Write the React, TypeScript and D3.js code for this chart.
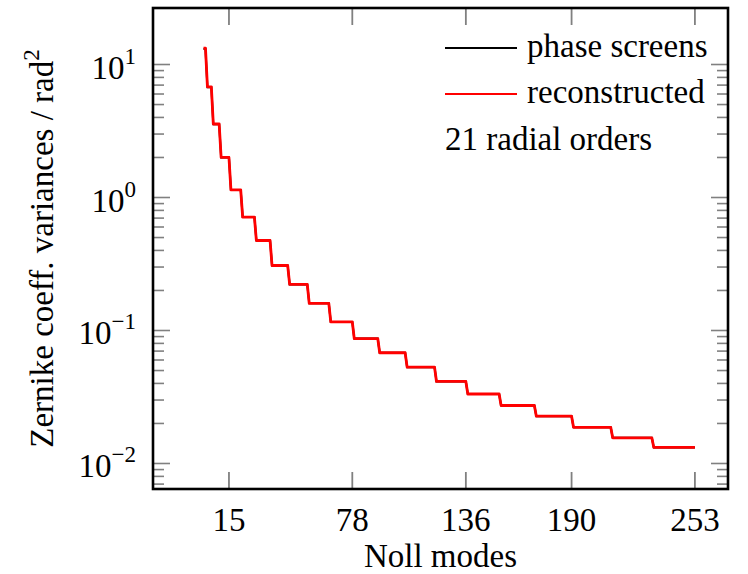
import React from 'react';
import * as d3 from 'd3';

// variance level of each radial order n = 1..21
const radialOrders = [1, 2, 3, 4, 5, 6, 7, 8, 9, 10, 11, 12, 13, 14, 15, 16, 17, 18, 19, 20, 21];
const phaseScreens = [13.1, 6.75, 3.55, 2.0, 1.14, 0.715, 0.475, 0.308, 0.222, 0.16, 0.116, 0.087, 0.068, 0.053, 0.0413, 0.0333, 0.0273, 0.0227, 0.0187, 0.0156, 0.0132];
const reconstructed = [13.3, 6.8, 3.57, 2.0, 1.14, 0.713, 0.475, 0.308, 0.222, 0.16, 0.116, 0.087, 0.068, 0.053, 0.0414, 0.0333, 0.0273, 0.0227, 0.0187, 0.0156, 0.0132];

const xTicks = [15, 78, 136, 190, 253];
const yMajorExps = [-2, -1, 0, 1];
const yMinorDecades = [-3, -2, -1, 0];

// expand a per-order level into Noll modes j (order n holds modes n(n+1)/2+1 .. (n+1)(n+2)/2)
const toModes = (levels: number[]) => {
    const pts: [number, number][] = [];
    radialOrders.forEach((n, i) => {
        const first = (n * (n + 1)) / 2 + 1;
        const last = ((n + 1) * (n + 2)) / 2;
        for (let j = first; j <= last; j++) pts.push([j, levels[i]]);
    });
    return pts;
};

const W = 748, H = 574;
const left = 153, right = 728, top = 8, bottom = 489;
const FONT = 'Liberation Serif';
const tickColor = '#808080';

const App = () => {
    const x = d3.scaleLinear().domain([-23.8, 269.9]).range([left, right]);
    const y = d3.scaleLog().domain([26.6, 0.00643]).range([top, bottom]);

    const line = d3.line<[number, number]>()
        .x(d => x(d[0]))
        .y(d => y(d[1]));

    const minor: number[] = [];
    yMinorDecades.forEach(d => {
        for (let k = 2; k <= 9; k++) {
            const v = k * Math.pow(10, d);
            if (v > 0.00643 && v < 26.6) minor.push(v);
        }
    });

    const legend = [
        { label: 'phase screens', color: '#000', ly: 48 },
        { label: 'reconstructed', color: '#ff0000', ly: 94 },
    ];

    return (
        <svg width={W} height={H} style={{ position: 'absolute', left: 0, top: 0, background: '#fff' }}>
            {/* x ticks bottom & top */}
            {xTicks.map(t => (
                <g key={'x' + t}>
                    <line x1={x(t)} x2={x(t)} y1={bottom} y2={bottom - 17} stroke={tickColor} strokeWidth={1.8} />
                    <line x1={x(t)} x2={x(t)} y1={top} y2={top + 17} stroke={tickColor} strokeWidth={1.8} />
                    <text x={x(t)} y={531} textAnchor="middle" fontFamily={FONT} fontSize={33}>{t}</text>
                </g>
            ))}

            {minor.map((v, i) => (
                <g key={'m' + i}>
                    <line x1={left} x2={left + 11} y1={y(v)} y2={y(v)} stroke={tickColor} strokeWidth={1.6} />
                    <line x1={right} x2={right - 11} y1={y(v)} y2={y(v)} stroke={tickColor} strokeWidth={1.6} />
                </g>
            ))}
            {yMajorExps.map(e => {
                const v = Math.pow(10, e);
                return (
                    <g key={'y' + e}>
                        <line x1={left} x2={left + 17} y1={y(v)} y2={y(v)} stroke={tickColor} strokeWidth={1.6} />
                        <line x1={right} x2={right - 17} y1={y(v)} y2={y(v)} stroke={tickColor} strokeWidth={1.6} />
                        <text x={136} y={y(v) + 14} textAnchor="end" fontFamily={FONT} fontSize={33}>
                            <tspan>10</tspan>
                            <tspan dy={-15} fontSize={23}>{e < 0 ? '\u2212' + Math.abs(e) : String(e)}</tspan>
                        </text>
                    </g>
                );
            })}

            {/* series */}
            <path d={line(toModes(phaseScreens)) || ''} fill="none" stroke="#000" strokeWidth={2} />
            <path d={line(toModes(reconstructed)) || ''} fill="none" stroke="#ff0000" strokeWidth={2.8} strokeLinejoin="round" />

            {/* frame */}
            <rect x={left} y={top} width={right - left} height={bottom - top} fill="none" stroke="#000" strokeWidth={2.6} />

            {/* legend */}
            {legend.map(l => (
                <g key={l.label}>
                    <line x1={445} x2={517} y1={l.ly} y2={l.ly} stroke={l.color} strokeWidth={2} />
                    <text x={527} y={l.ly + 9} fontFamily={FONT} fontSize={33}>{l.label}</text>
                </g>
            ))}
            <text x={445} y={150} fontFamily={FONT} fontSize={33}>21 radial orders</text>

            {/* axis labels */}
            <text x={(left + right) / 2} y={567} textAnchor="middle" fontFamily={FONT} fontSize={33}>Noll modes</text>
            <text transform={`translate(53, ${(top + bottom) / 2}) rotate(-90)`} textAnchor="middle" fontFamily={FONT} fontSize={33}>
                <tspan>Zernike coeff. variances / rad</tspan>
                <tspan dy={-14} fontSize={23}>2</tspan>
            </text>
        </svg>
    );
};

export default App;
